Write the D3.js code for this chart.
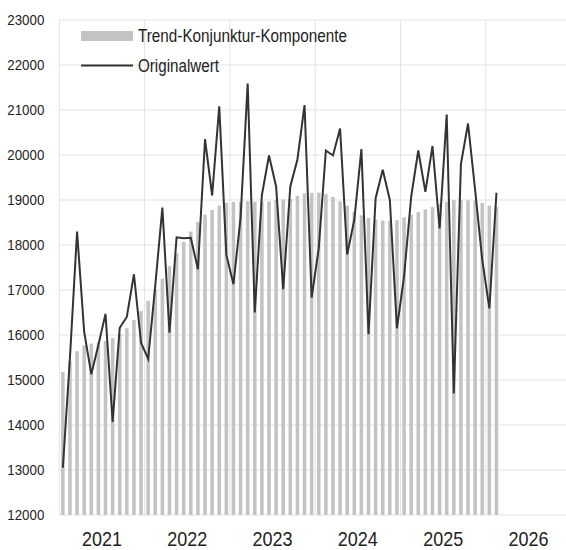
<!DOCTYPE html>
<html>
<head>
<meta charset="utf-8">
<script src="https://cdn.jsdelivr.net/npm/d3@7/dist/d3.min.js"></script>
<style>
  body { margin: 0; background: #fff; }
  svg { display: block; }
  .ylab text { font-family: 'Liberation Sans', Arial, sans-serif; font-size: 14px; fill: #222; }
  .xlab text { font-family: 'Liberation Sans Narrow', 'Liberation Sans', Arial, sans-serif; font-size: 21px; fill: #222; }
  .legend text { font-family: 'Liberation Sans Narrow', 'Liberation Sans', Arial, sans-serif; font-size: 17.5px; fill: #222; }
</style>
</head>
<body>
<svg id="chart" width="566" height="550"></svg>
<script>
var years = ['2021', '2022', '2023', '2024', '2025', '2026']
var monthNames = ['01', '02', '03', '04', '05', '06', '07', '08', '09', '10', '11', '12']
var yTicks = [12000, 13000, 14000, 15000, 16000, 17000, 18000, 19000, 20000, 21000, 22000, 23000]

// Trend-Konjunktur-Komponente, Jan 2021 .. Feb 2026
var trend = [
  15180, 15410, 15640, 15770, 15810, 15830, 15870, 15930, 16030, 16150, 16330, 16530,
  16760, 17000, 17250, 17530, 17815, 18070, 18300, 18510, 18675, 18780, 18875, 18940,
  18960, 18960, 18975, 18960, 18960, 18970, 19000, 19015, 19025, 19095, 19148, 19160,
  19163, 19130, 19067, 18970, 18870, 18740, 18660, 18600, 18565, 18545, 18541, 18550,
  18615, 18667, 18730, 18790, 18844, 18911, 18960, 19000, 19000, 18995, 18985, 18935,
  18874, 18852
]

// Originalwert
var original = [
  13050, 15500, 18300, 16070, 15130, 15780, 16470, 14070, 16160, 16400, 17350, 15830,
  15470, 17100, 18830, 16050, 18170, 18150, 18160, 17460, 20350, 19100, 21080, 17780,
  17130, 18600, 21590, 16500, 19110, 19990, 19300, 17020, 19300, 19900, 21110, 16830,
  17930, 20100, 19990, 20590, 17790, 18560, 20130, 16020, 19040, 19670, 19000, 16150,
  17300, 19070, 20100, 19180, 20200, 18370, 20900, 14700, 19800, 20700, 19220, 17670,
  16590, 19160
]

var svg = d3.select('#chart')
var left = 59.3
var yearW = 85.3
var right = left + yearW * years.length

var slots = []
years.forEach(function (y) {
  monthNames.forEach(function (m) { slots.push(y + '-' + m) })
})
var months = slots.slice(0, trend.length)

var x = d3.scaleBand().domain(slots).range([left, right]).paddingInner(0.5).paddingOuter(0.25)
var xYear = d3.scaleBand().domain(years).range([left, right])
var y = d3.scaleLinear().domain([12000, 23000]).range([515, 20])

// grid
svg.append('g').selectAll('line').data(yTicks).join('line')
  .attr('x1', left).attr('x2', 566)
  .attr('y1', function (d) { return y(d) }).attr('y2', function (d) { return y(d) })
  .attr('stroke', '#e3e3e3').attr('stroke-width', 1)

svg.append('g').selectAll('line').data(years).join('line')
  .attr('x1', function (d) { return xYear(d) }).attr('x2', function (d) { return xYear(d) })
  .attr('y1', y(23000)).attr('y2', y(12000))
  .attr('stroke', '#e3e3e3').attr('stroke-width', 1)

// bars
svg.append('g').selectAll('rect').data(months).join('rect')
  .attr('x', function (d) { return x(d) })
  .attr('width', x.bandwidth())
  .attr('y', function (d, i) { return y(trend[i]) })
  .attr('height', function (d, i) { return y(12000) - y(trend[i]) })
  .attr('fill', '#c3c3c3')

// line
var line = d3.line()
  .x(function (d, i) { return x(months[i]) + x.bandwidth() / 2 })
  .y(function (d) { return y(d) })
svg.append('path').datum(original)
  .attr('d', line)
  .attr('fill', 'none')
  .attr('stroke', '#333')
  .attr('stroke-width', 2)
  .attr('stroke-linejoin', 'miter')

// axes
var yAxis = svg.append('g').attr('class', 'ylab')
  .attr('transform', 'translate(' + (left - 15) + ',0)')
  .call(d3.axisLeft(y).tickValues(yTicks).tickSize(0).tickPadding(0).tickFormat(d3.format('d')))
yAxis.select('.domain').remove()
yAxis.selectAll('text').attr('textLength', 37).attr('lengthAdjust', 'spacingAndGlyphs')

var xAxis = svg.append('g').attr('class', 'xlab')
  .attr('transform', 'translate(0,' + (y(12000) + 16) + ')')
  .call(d3.axisBottom(xYear).tickSize(0).tickPadding(0))
xAxis.select('.domain').remove()
// the original uses a narrow face; squeeze to match
xAxis.selectAll('text').attr('textLength', 40).attr('lengthAdjust', 'spacingAndGlyphs')

// legend
var lg = svg.append('g').attr('class', 'legend')
lg.append('rect').attr('x', 81).attr('y', 31).attr('width', 52).attr('height', 10).attr('fill', '#c3c3c3')
lg.append('text').attr('x', 138).attr('y', 42)
  .attr('textLength', 209).attr('lengthAdjust', 'spacingAndGlyphs')
  .text('Trend-Konjunktur-Komponente')
lg.append('line').attr('x1', 81).attr('x2', 133).attr('y1', 65.5).attr('y2', 65.5)
  .attr('stroke', '#333').attr('stroke-width', 2)
lg.append('text').attr('x', 138).attr('y', 72.3)
  .attr('textLength', 81).attr('lengthAdjust', 'spacingAndGlyphs')
  .text('Originalwert')
</script>
</body>
</html>
